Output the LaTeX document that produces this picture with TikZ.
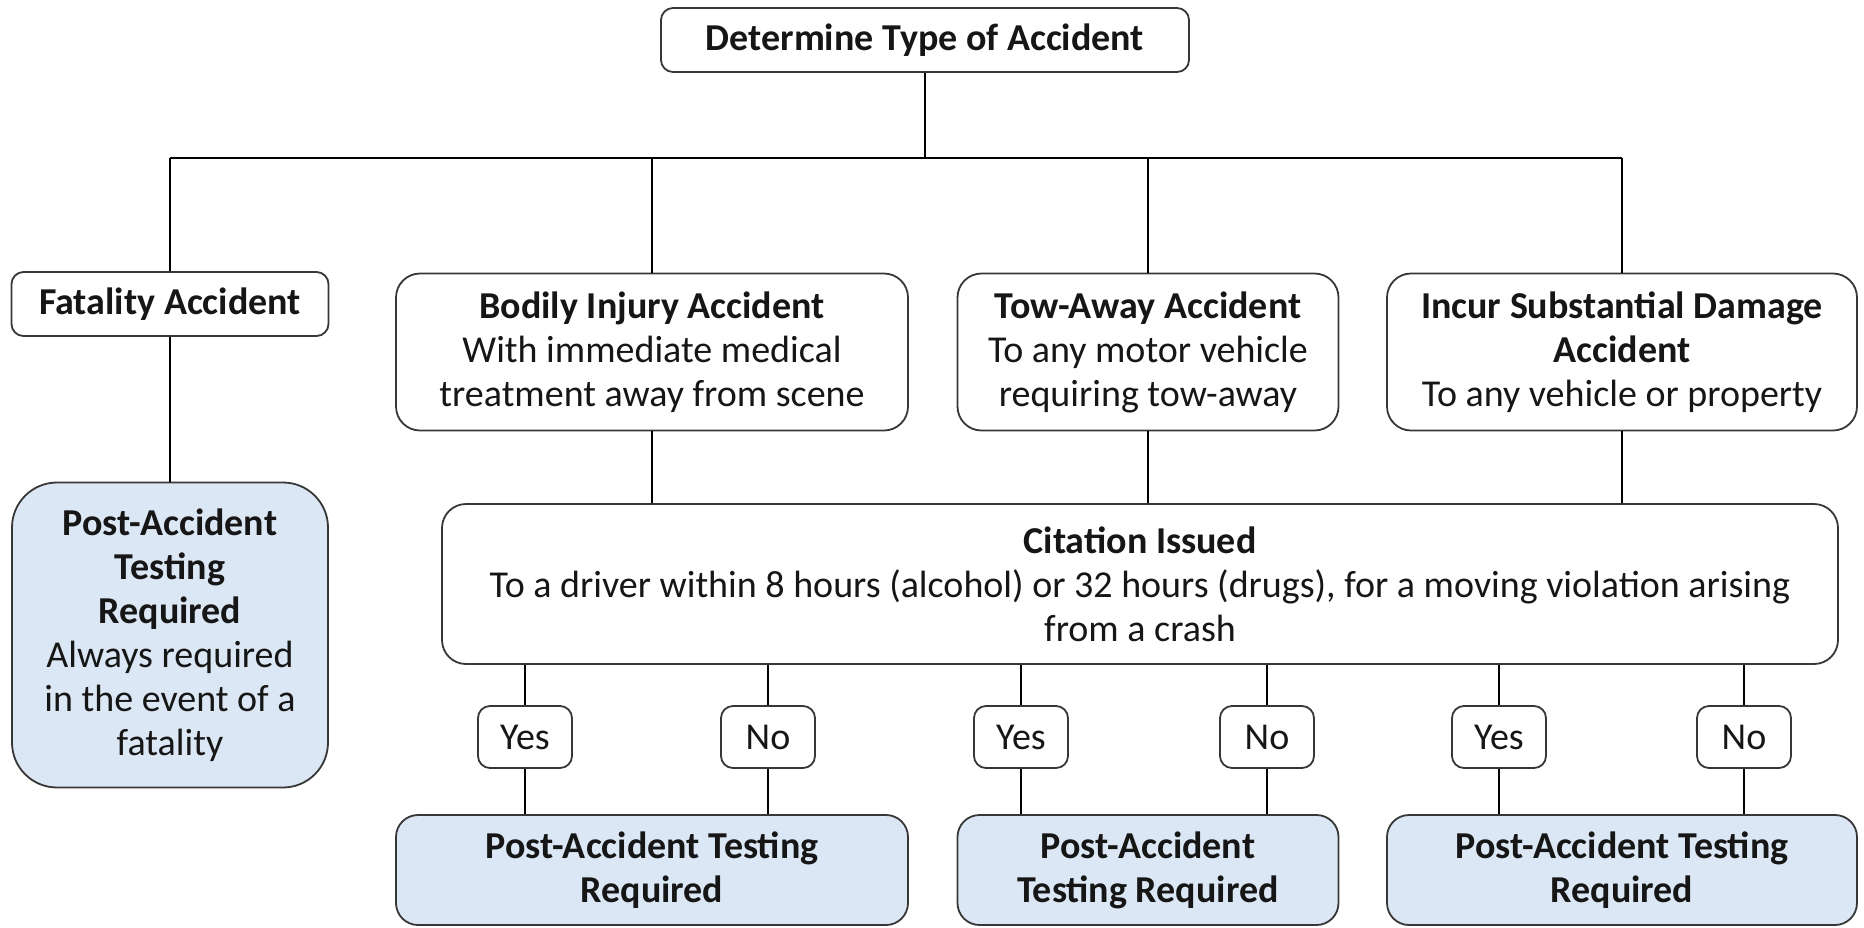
\documentclass[tikz,border=0pt]{standalone}
\usepackage{fontspec}
\setmainfont{Carlito}
\definecolor{paleblue}{RGB}{219,231,244}
\definecolor{edgegray}{RGB}{55,55,55}
\definecolor{inkblack}{RGB}{22,22,22}

\begin{document}
\begin{tikzpicture}[x=1pt, y=-1pt,
        box/.style={draw=edgegray, line width=1.8pt, rounded corners=12pt, fill=white, text=inkblack,
            align=center, inner sep=0pt, font=\fontsize{38}{44}\selectfont},
        bigbox/.style={box, rounded corners=24pt},
        result/.style={box, fill=paleblue, rounded corners=22pt},
        choice/.style={box, minimum width=94pt, minimum height=62pt},
        link/.style={line width=2.6pt, black}]
            \useasboundingbox (0,0) rectangle (1864,927);
            \pgfmathsetmacro{\busy}{158};
            \pgfmathsetmacro{\choicey}{737};
            \pgfmathsetmacro{\resulty}{870};
            % top and the four kinds of accident
            \node [box, minimum width=528pt, minimum height=64pt] (type) at (925, 40) {\textbf{Determine Type of Accident}};
            \node [box, minimum width=317pt, minimum height=64pt] (fatal) at (170, 304) {\textbf{Fatality Accident}};
            \node [bigbox, minimum width=512pt, minimum height=157pt] (bodily) at (652, 352) {\textbf{Bodily Injury Accident}\\With immediate medical\\treatment away from scene};
            \node [bigbox, minimum width=381pt, minimum height=157pt] (tow) at (1148, 352) {\textbf{Tow-Away Accident}\\To any motor vehicle\\requiring tow-away};
            \node [bigbox, minimum width=470pt, minimum height=157pt] (incur) at (1622, 352) {\textbf{Incur Substantial Damage}\\\textbf{Accident}\\To any vehicle or property};
            \node [result, rounded corners=45pt, minimum width=316pt, minimum height=305pt] (fatalres) at (170, 635) {\textbf{Post-Accident}\\\textbf{Testing}\\\textbf{Required}\\Always required\\in the event of a\\fatality};
            \node [bigbox, minimum width=1396pt, minimum height=160pt] (cite) at (1140, 584) {\textbf{Citation Issued}\\To a driver within 8 hours (alcohol) or 32 hours (drugs), for a moving violation arising\\from a crash};
            % yes / no
            \node [choice] (yes1) at (525, \choicey) {Yes};
            \node [choice] (no1) at (768, \choicey) {No};
            \node [choice] (yes2) at (1021, \choicey) {Yes};
            \node [choice] (no2) at (1267, \choicey) {No};
            \node [choice] (yes3) at (1499, \choicey) {Yes};
            \node [choice] (no3) at (1744, \choicey) {No};
            \node [result, minimum width=512pt, minimum height=110pt] (res1) at (652, \resulty) {\textbf{Post-Accident Testing}\\\textbf{Required}};
            \node [result, minimum width=381pt, minimum height=110pt] (res2) at (1148, \resulty) {\textbf{Post-Accident}\\\textbf{Testing Required}};
            \node [result, minimum width=470pt, minimum height=110pt] (res3) at (1622, \resulty) {\textbf{Post-Accident Testing}\\\textbf{Required}};
            % connectors
            \coordinate (busl) at (170, \busy);
            \coordinate (busr) at (1622, \busy);
            \draw [link] (type.south) -- (type.south |- busl);
            \draw [link] (busl) -- (busr);
            \draw [link] (busl) -- (fatal.north);
            \draw [link] (bodily.north |- busl) -- (bodily.north);
            \draw [link] (tow.north |- busl) -- (tow.north);
            \draw [link] (busr) -- (incur.north);
            \draw [link] (fatal.south) -- (fatalres.north);
            \draw [link] (bodily.south) -- (bodily.south |- cite.north);
            \draw [link] (tow.south) -- (tow.south |- cite.north);
            \draw [link] (incur.south) -- (incur.south |- cite.north);
            \draw [link] (yes1.north |- cite.south) -- (yes1.north);
            \draw [link] (no1.north |- cite.south) -- (no1.north);
            \draw [link] (yes2.north |- cite.south) -- (yes2.north);
            \draw [link] (no2.north |- cite.south) -- (no2.north);
            \draw [link] (yes3.north |- cite.south) -- (yes3.north);
            \draw [link] (no3.north |- cite.south) -- (no3.north);
            \draw [link] (yes1.south) -- (yes1.south |- res1.north);
            \draw [link] (no1.south) -- (no1.south |- res1.north);
            \draw [link] (yes2.south) -- (yes2.south |- res2.north);
            \draw [link] (no2.south) -- (no2.south |- res2.north);
            \draw [link] (yes3.south) -- (yes3.south |- res3.north);
            \draw [link] (no3.south) -- (no3.south |- res3.north);
        \end{tikzpicture}
\end{document}
